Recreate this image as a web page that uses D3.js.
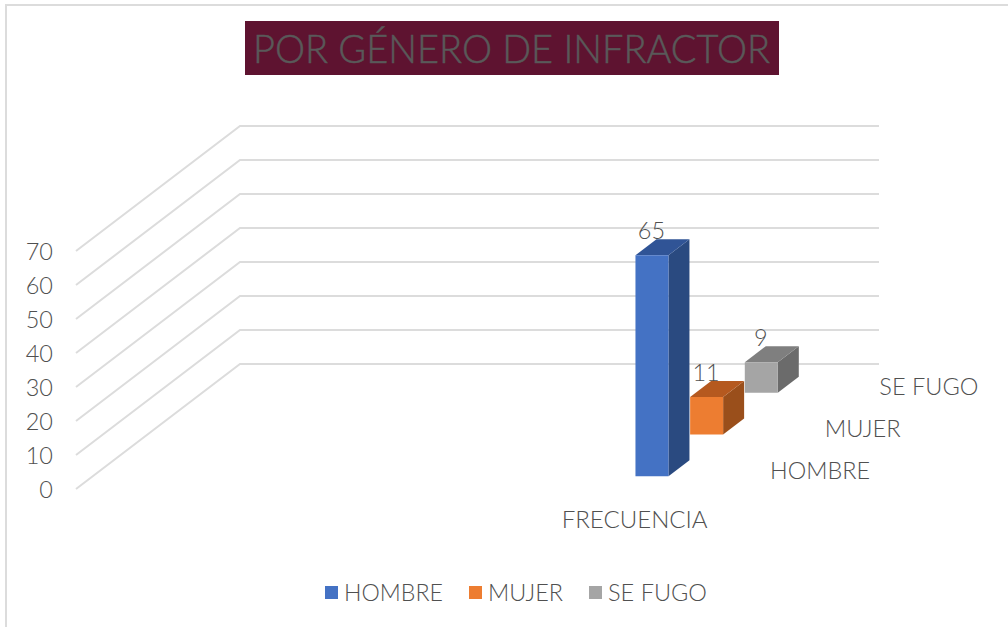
<!DOCTYPE html>
<html><head><meta charset="utf-8">
<script src="https://cdn.jsdelivr.net/npm/d3@7/dist/d3.min.js"></script>
<style>html,body{margin:0;padding:0;background:#fff}svg{display:block}text{font-family:Lato,"Open Sans",sans-serif;fill:#505050;font-weight:300}</style>
</head><body><svg id="c" width="1008" height="627"></svg>
<script>
const titleText = "POR GÉNERO DE INFRACTOR";
const categories = ["a","b","c","FRECUENCIA"];
const seriesNames = ["HOMBRE","MUJER","SE FUGO"];
const seriesValues = [65,11,9];
const seriesColors = ["#4472c4","#ed7d31","#a5a5a5"];
const sideColors = ["#2a4a80","#9a4f1b","#6b6b6b"];
const topColors = ["#305496","#b5591f","#7f7f7f"];
const yTicks = [0,10,20,30,40,50,60,70];

const svg = d3.select("#c");
const GRID="#dcdcdc";
// frame
svg.append("path").attr("d","M6,627V5H1008").attr("fill","none").attr("stroke",GRID).attr("stroke-width",2);
// title
svg.append("rect").attr("x",245).attr("y",21).attr("width",534).attr("height",54).attr("fill","#5e1330");
svg.append("text").attr("x",253).attr("y",62.5).attr("font-size",39)
  .style("fill","#595959").attr("stroke","#595959").attr("stroke-width",0.5)
  .attr("textLength",517).attr("lengthAdjust","spacingAndGlyphs").text(titleText);

const y = d3.scaleLinear().domain([0,70]).range([489,251]);
const x = d3.scaleBand().domain(categories).range([76,715]);
const depth = d3.scaleBand().domain(seriesNames).range([0,1]);
const DX=164, DY=-125;
const proj=(px,py,d)=>[px+d*DX,py+d*DY];
const line=d3.line();

// gridlines
svg.append("g").selectAll("path").data(yTicks).join("path")
  .attr("d",v=>line([proj(76,y(v),0),proj(76,y(v),1),[879,y(v)+DY]]))
  .attr("fill","none").attr("stroke",GRID).attr("stroke-width",2);

// y labels
svg.append("g").selectAll("text").data(yTicks).join("text")
  .attr("x",53).attr("y",v=>y(v)+8.5).attr("text-anchor","end").attr("font-size",23.5).text(d=>d);

// bars
const barW=33, dFrac=0.128;
const cx=x("FRECUENCIA")+x.bandwidth()/2;
const bars=seriesNames.map((s,i)=>({s,i,v:seriesValues[i]}));
const g=svg.append("g");
bars.slice().reverse().forEach(b=>{
  const d0=depth(b.s)+depth.bandwidth()/2-dFrac/2, d1=d0+dFrac;
  const xl=cx-barW/2, xr=cx+barW/2;
  const p=(px,v,d)=>proj(px,y(v),d);
  g.append("path").attr("d",line([p(xr,0,d0),p(xr,0,d1),p(xr,b.v,d1),p(xr,b.v,d0)])+"Z").attr("fill",sideColors[b.i]);
  g.append("path").attr("d",line([p(xl,b.v,d0),p(xr,b.v,d0),p(xr,b.v,d1),p(xl,b.v,d1)])+"Z").attr("fill",topColors[b.i]);
  g.append("path").attr("d",line([p(xl,0,d0),p(xr,0,d0),p(xr,b.v,d0),p(xl,b.v,d0)])+"Z").attr("fill",seriesColors[b.i]);
});
// data labels
bars.forEach(b=>{
  const d0=depth(b.s)+depth.bandwidth()/2-dFrac/2;
  const p=proj(cx,y(b.v),d0);
  svg.append("text").attr("x",p[0]-0.5).attr("y",p[1]-16).attr("text-anchor","middle").attr("font-size",23.5).text(b.v);
});
// series depth-axis labels
const depthLabelW=[100,76,99];
seriesNames.forEach((s,i)=>{
  const px=770+depth(s)*DX, py=478.5+depth(s)*DY;
  svg.append("text").attr("x",px).attr("y",py).attr("font-size",23.5)
    .attr("textLength",depthLabelW[i]).attr("lengthAdjust","spacingAndGlyphs").text(s);
});
// category label
svg.append("text").attr("x",cx-0.5).attr("y",527.5).attr("text-anchor","middle").attr("font-size",23.5)
  .attr("textLength",146).attr("lengthAdjust","spacingAndGlyphs").text("FRECUENCIA");
// legend
const legendX=[325,469,589], legendW=[99,75,99];
seriesNames.forEach((s,i)=>{
  svg.append("rect").attr("x",legendX[i]).attr("y",586).attr("width",13).attr("height",13).attr("fill",seriesColors[i]);
  svg.append("text").attr("x",legendX[i]+19).attr("y",601).attr("font-size",23.5)
    .attr("textLength",legendW[i]).attr("lengthAdjust","spacingAndGlyphs").text(s);
});
</script></body></html>
